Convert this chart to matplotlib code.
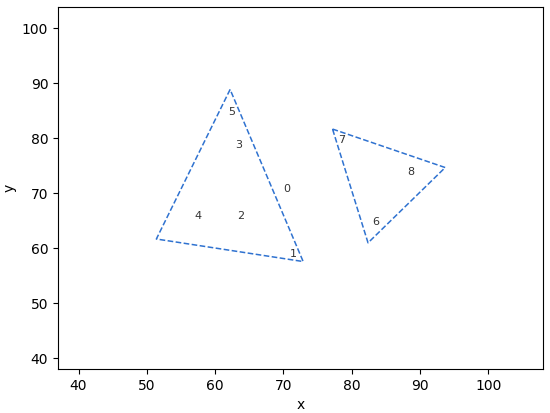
import matplotlib
matplotlib.use("Agg")
import matplotlib.pyplot as plt

# point labels and positions
labels = ["0", "1", "2", "3", "4", "5", "6", "7", "8"]
px = [70.5, 71.5, 63.7, 63.5, 57.5, 62.5, 83.6, 78.6, 88.6]
py = [70.8, 59.0, 65.8, 78.8, 65.8, 84.8, 64.8, 79.7, 73.9]

# hull triangles (closed)
hull1_x = [62.2, 51.4, 72.9, 62.2]
hull1_y = [88.9, 61.7, 57.6, 88.9]
hull2_x = [77.2, 93.7, 82.4, 77.2]
hull2_y = [81.7, 74.7, 61.0, 81.7]

fig = plt.figure(figsize=(5.5, 4.13), dpi=100)
ax = fig.add_axes([0.1055, 0.1065, 0.8815, 0.8765])

for hx, hy in [(hull1_x, hull1_y), (hull2_x, hull2_y)]:
    ax.plot(hx, hy, linestyle="--", color="#2f72d0", linewidth=1.1)

for lab, x, y in zip(labels, px, py):
    ax.text(x, y, lab, fontsize=8, ha="center", va="center", color="#333333")

ax.set_xlim(37.0, 108.0)
ax.set_ylim(38.05, 103.9)
ax.set_xticks([40, 50, 60, 70, 80, 90, 100])
ax.set_yticks([40, 50, 60, 70, 80, 90, 100])
ax.set_xlabel("x")
ax.set_ylabel("y")

fig.savefig("out.png", dpi=100)
